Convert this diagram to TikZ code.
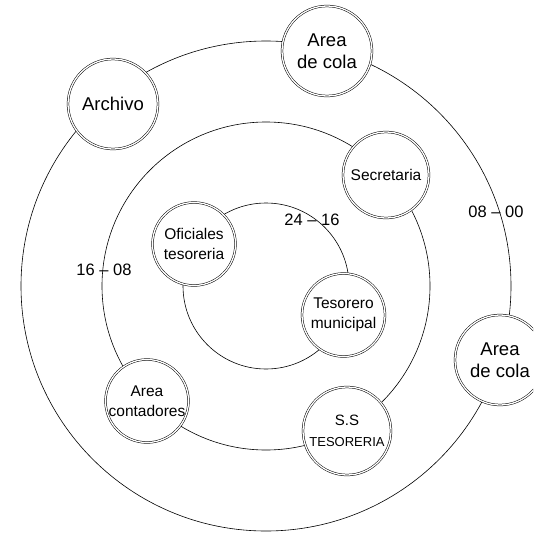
\documentclass[tikz,border=0pt]{standalone}
\usepackage{fontspec}
\setmainfont{Liberation Sans}
\begin{document}
\begin{tikzpicture}[x=1pt,y=-1pt,
  ring/.style={line width=0.6pt},
  place/.style={circle, draw, double, double distance=1.3pt, line width=0.5pt,
    fill=white, inner sep=0pt, align=center},
  bigplace/.style={place, minimum size=90pt, font=\fontsize{18.5}{22.5}\selectfont},
  smallplace/.style={place, minimum size=83pt, font=\fontsize{15.5}{20}\selectfont},
  lbl/.style={inner sep=0pt, font=\fontsize{16.5}{18}\selectfont}]
\useasboundingbox (0,0) rectangle (533,538);
\clip (0,0) rectangle (533,538);
\fill[white] (0,0) rectangle (533,538);
\coordinate (c) at (266,286);
\draw[ring] (c) circle[radius=245pt];
\draw[ring] (c) circle[radius=164pt];
\draw[ring] (c) circle[radius=83pt];
% outer ring
\node[bigplace] (cola1) at (327,51) {Area\\de cola};
\node[bigplace] (archivo) at (113,104) {Archivo};
\node[bigplace] (cola2) at (500,360) {Area\\de cola};
% middle ring
\node[smallplace, minimum size=86pt] (secretaria) at (386,175) {Secretaria};
\node[smallplace] (contadores) at (147,401) {Area\\contadores};
\node[place, minimum size=88pt, font=\fontsize{13}{21}\selectfont] (ss) at (347,431)
  {{\fontsize{15}{21}\selectfont S.S}\\TESORERIA};
% inner ring
\node[smallplace] (oficiales) at (194,244) {Oficiales\\tesoreria};
\node[smallplace] (tesorero) at (343.5,315) {Tesorero\\municipal};
% time labels
\node[lbl] (t1) at (312,220) {24 -- 16};
\node[lbl] (t2) at (104,270) {16 -- 08};
\node[lbl] (t3) at (496,212) {08 -- 00};
\end{tikzpicture}
\end{document}
